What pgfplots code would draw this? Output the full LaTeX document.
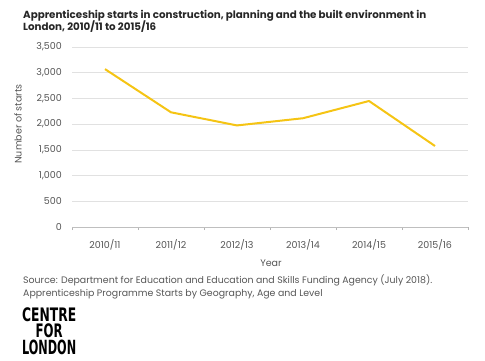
\documentclass[border=0pt]{standalone}
\usepackage{pgfplots}
\pgfplotsset{compat=1.18}
\usepackage{fontspec}
\setmainfont{Poppins}
\newfontfamily\logofont{DejaVu Sans Condensed}
\definecolor{lineyel}{RGB}{245,196,20}
\definecolor{txtgray}{RGB}{85,85,85}
\definecolor{gridgray}{RGB}{225,225,225}
\begin{document}
\begin{tikzpicture}[x=1bp,y=1bp]
\path[use as bounding box] (0,0) rectangle (485,360);
\begin{axis}[
  at={(72bp,133bp)}, anchor=south west,
  scale only axis, width=396bp, height=180bp,
  xmin=-0.5, xmax=5.5, ymin=0, ymax=3500,
  xtick={0,1,2,3,4,5},
  xticklabels={2010/11,2011/12,2012/13,2013/14,2014/15,2015/16},
  ytick={0,500,1000,1500,2000,2500,3000,3500},
  xtick pos=bottom, ytick pos=left,
  major tick length=0pt,
  axis line style={draw=none},
  extra x ticks={-0.5,0.5,1.5,2.5,3.5,4.5,5.5},
  extra x tick labels={},
  extra x tick style={major tick length=3bp, tick align=outside, tick style={gridgray!80!black, line width=0.5bp}},
  extra y ticks={0},
  extra y tick labels={},
  extra y tick style={ymajorgrids, grid style={gridgray!85!black, line width=0.7bp}},
  ymajorgrids, grid style={gridgray, line width=0.6bp},
  /pgf/number format/.cd, 1000 sep={,}, assume math mode=true,
  /pgfplots/.cd,
  tick label style={font=\fontsize{9.5bp}{11bp}\selectfont, text=txtgray},
  yticklabel style={inner sep=0pt, xshift=-10bp},
  xticklabel style={inner sep=0pt, yshift=-12bp},
  clip=false,
]
\addplot[lineyel, line width=2bp, line join=round] coordinates {
  (0,3070) (1,2230) (2,1975) (3,2115) (4,2450) (5,1575)
};
\end{axis}
\node[anchor=base west, inner sep=0pt, font=\fontsize{10.3bp}{12bp}\selectfont\bfseries, text=black!85] at (23,341.5) {Apprenticeship starts in construction, planning and the built environment in};
\node[anchor=base west, inner sep=0pt, font=\fontsize{10.3bp}{12bp}\selectfont\bfseries, text=black!85] at (23,329.3) {London, 2010/11 to 2015/16};
\node[rotate=90, inner sep=0pt, font=\fontsize{9.5bp}{11bp}\selectfont, text=txtgray] at (18,236) {Number of starts};
\node[anchor=base, inner sep=0pt, font=\fontsize{9.5bp}{11bp}\selectfont, text=txtgray] at (271,94) {Year};
\node[anchor=base west, inner sep=0pt, font=\fontsize{9.4bp}{11bp}\selectfont, text=txtgray] at (23,76.5) {Source: Department for Education and Education and Skills Funding Agency (July 2018).};
\node[anchor=base west, inner sep=0pt, font=\fontsize{9.4bp}{11bp}\selectfont, text=txtgray] at (23,63.3) {Apprenticeship Programme Starts by Geography, Age and Level};
\node[anchor=north west, inner sep=0pt] at (22,52.5) {\resizebox{54bp}{13.8bp}{\logofont\bfseries CENTRE}};
\node[anchor=north, inner sep=0pt] at (49.2,36.2) {\resizebox{27bp}{13.8bp}{\logofont\bfseries FOR}};
\node[anchor=north west, inner sep=0pt] at (22,19.8) {\resizebox{54bp}{14.5bp}{\logofont\bfseries LONDON}};
\end{tikzpicture}
\end{document}
